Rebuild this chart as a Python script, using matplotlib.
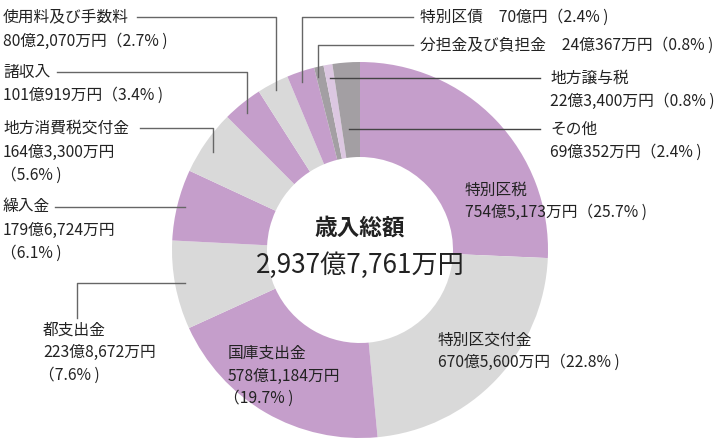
import matplotlib
matplotlib.use("Agg")
import matplotlib.pyplot as plt

plt.rcParams['font.family'] = ['Noto Sans CJK JP', 'DejaVu Sans']

categories = ["特別区税", "特別区交付金", "国庫支出金", "都支出金", "繰入金",
              "地方消費税交付金", "諸収入", "使用料及び手数料", "特別区債",
              "分担金及び負担金", "地方譲与税", "その他"]
values_man = [7545173, 6705600, 5781184, 2238672, 1796724, 1643300,
              1010919, 802070, 700000, 240367, 223400, 690352]
amount_labels = ["754億5,173万円", "670億5,600万円", "578億1,184万円", "223億8,672万円",
                 "179億6,724万円", "164億3,300万円", "101億919万円", "80億2,070万円",
                 "70億円", "24億367万円", "22億3,400万円", "69億352万円"]
percents = ["25.7%", "22.8%", "19.7%", "7.6%", "6.1%", "5.6%", "3.4%", "2.7%",
            "2.4%", "0.8%", "0.8%", "2.4%"]
total_label = "2,937億7,761万円"

PURPLE = "#c59ecb"
LGRAY = "#d9d9d9"
DGRAY = "#a39fa3"
LPURPLE = "#dcc7e1"
colors = [PURPLE, LGRAY, PURPLE, LGRAY, PURPLE, LGRAY, PURPLE, LGRAY, PURPLE,
          DGRAY, LPURPLE, DGRAY]

W, H = 720, 447
fig = plt.figure(figsize=(7.2, 4.47), dpi=100)
ax = fig.add_axes([0, 0, 1, 1])
ax.set_xlim(0, W)
ax.set_ylim(0, H)
ax.set_aspect('equal')
ax.axis('off')

def Y(y):
    return H - y

cx, cy, R = 360, 250, 188
ax.pie(values_man, colors=colors, startangle=90, counterclock=False,
       center=(cx, Y(cy)), radius=R,
       wedgeprops=dict(width=R - 93, linewidth=0))
ax.set_xlim(0, W)
ax.set_ylim(0, H)

fs = 11.3
tc = "#222222"
lc = "#666666"

def txt(x, y, s, **kw):
    d = dict(fontsize=fs, color=tc, va='center', ha='left')
    d.update(kw)
    ax.text(x, Y(y), s, **d)

def line(pts, color=lc):
    xs = [p[0] for p in pts]
    ys = [Y(p[1]) for p in pts]
    ax.plot(xs, ys, color=color, lw=1)

def pct(i):
    return "（" + percents[i] + " )"

# center
txt(cx, 228, "歳入総額", ha='center', fontsize=16.3, fontweight='bold')
txt(cx, 265, total_label, ha='center', fontsize=18.8)

# 特別区税
txt(465, 190, categories[0])
txt(465, 212, amount_labels[0] + pct(0))
# 特別区交付金
txt(438, 340, categories[1])
txt(438, 362, amount_labels[1] + pct(1))
# 国庫支出金
txt(228, 353, categories[2])
txt(228, 376, amount_labels[2])
txt(224, 398, pct(2))
# 都支出金
txt(43, 330, categories[3])
txt(43, 352, amount_labels[3])
txt(39, 375, pct(3))
line([(77, 318), (77, 283), (185, 283)])
# 繰入金
txt(3, 207, categories[4])
txt(3, 230, amount_labels[4])
txt(1, 253, pct(4))
line([(55, 207), (185, 207)])
# 地方消費税交付金
txt(3, 128, categories[5])
txt(3, 152, amount_labels[5])
txt(1, 175, pct(5))
line([(140, 128), (213, 128), (213, 152)])
# 諸収入
txt(3, 72, categories[6])
txt(3, 95, amount_labels[6] + pct(6))
line([(57, 72), (247, 72), (247, 113)])
# 使用料及び手数料
txt(3, 17, categories[7])
txt(3, 41, amount_labels[7] + pct(7))
line([(137, 17), (276, 17), (276, 90)])
# 特別区債
txt(420, 17, categories[8] + "　" + amount_labels[8] + pct(8))
line([(302, 82), (302, 17), (413, 17)])
# 分担金及び負担金
txt(420, 45, categories[9] + "　" + amount_labels[9] + pct(9))
line([(318, 77), (318, 45), (413, 45)])
# 地方譲与税
txt(550, 78, categories[10])
txt(550, 101, amount_labels[10] + pct(10))
line([(330, 78), (540, 78)], color="#444444")
# その他
txt(550, 129, categories[11])
txt(550, 152, amount_labels[11] + pct(11))
line([(349, 129), (540, 129)], color="#444444")

fig.savefig("out.png", dpi=100)
